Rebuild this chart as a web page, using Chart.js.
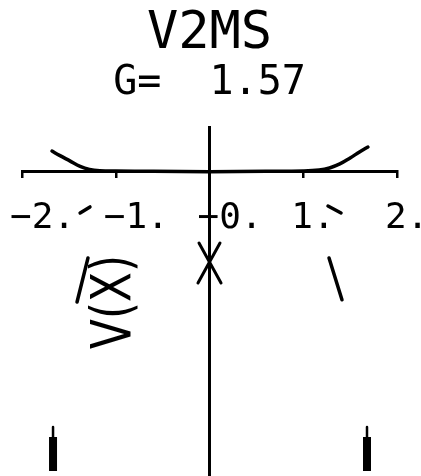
<!DOCTYPE html>
<html>
<head>
<meta charset="utf-8">
<title>V2MS</title>
<script src="https://cdn.jsdelivr.net/npm/chart.js@4.4.0/dist/chart.umd.min.js"></script>
<style>
  html, body { margin: 0; padding: 0; background: #fff; }
  canvas { display: block; }
</style>
</head>
<body>
<canvas id="v2ms" width="421" height="476"></canvas>
<script>
// V(X) sampled along X
var xPoints = [-1.68, -1.60, -1.49, -1.38, -1.28, -1.17, -1.00, -0.60, 0, 0.60, 1.00, 1.17, 1.28, 1.39, 1.50, 1.60, 1.69]
var vPoints = [0.222, 0.175, 0.116, 0.057, 0.024, 0.010, 0.006, 0.004, 0, 0.004, 0.008, 0.018, 0.040, 0.083, 0.147, 0.212, 0.265]

// short pen strokes under the axis, start and end of each
var strokeX = [[-1.380, -1.275], [1.264, 1.403], [-1.296, -1.413], [1.275, 1.413]]
var strokeY = [[-0.444, -0.379], [-0.369, -0.444], [-0.927, -1.400], [-0.927, -1.376]]

// X mark on the V axis
var crossX = [[-0.112, 0.123], [0.112, -0.123]]
var crossY = [[-0.766, -1.196], [-0.766, -1.196]]

// pen arrows near the bottom
var arrowX    = [-1.669, 1.680]
var arrowStem = [-2.743, -2.850]
var arrowBody = [-2.850, -3.216]

var xTicks      = [-2, -1, 0, 1, 2]
var xTickLabels = ['\u22122.', '\u22121.', '\u22120.', '1.', '2.']
var yLimits     = [-3.27, 0.48]

var titleText    = 'V2MS'
var subtitleText = 'G=  1.57'
var yTitleText   = 'V(X)'

var plotter = ( function() {
  var
      ink = '#000'

  , segment = function (xs, ys, width) {
      return {
          data           : xs.map(function (x, i) { return { x: x, y: ys[i] } })
        , borderColor    : ink
        , borderWidth    : width
        , borderCapStyle : 'round'
        , showLine       : true
        , pointRadius    : 0
        , clip           : false
      }
  }

  , buildDatasets = function () {
      var sets = []
        , curve = segment(xPoints, vPoints, 3.5)

      curve.tension = 0.4
      sets.push(curve)

      for (var i = 0; i < strokeX.length; i++)
        sets.push(segment(strokeX[i], strokeY[i], 3.5))

      for (var j = 0; j < crossX.length; j++)
        sets.push(segment(crossX[j], crossY[j], 3))

      for (var k = 0; k < arrowX.length; k++) {
        sets.push(segment([arrowX[k], arrowX[k]], arrowStem, 2.5))
        var body = segment([arrowX[k], arrowX[k]], arrowBody, 8)
        body.borderCapStyle = 'butt'
        sets.push(body)
      }
      return sets
  }

  // V(X) label, drawn sideways reading upward
  , axisLabel = {
      id: 'axisLabel'
    , afterDraw: function (chart) {
        var
            ctx = chart.ctx
          , x   = chart.scales.x.getPixelForValue(-1.0)
          , y   = chart.scales.y.getPixelForValue(-1.4)

        ctx.save()
        ctx.translate(x, y)
        ctx.rotate(-Math.PI / 2)
        ctx.scale(0.78, 1)
        ctx.font = '56px "DejaVu Sans"'
        ctx.textAlign = 'center'
        ctx.textBaseline = 'middle'
        ctx.fillStyle = ink
        ctx.fillText(yTitleText, 0, 0)
        ctx.restore()
    }
  }

  , draw = function (canvasId) {
      var context = document.getElementById(canvasId).getContext('2d')

      return new Chart(context, {
          type    : 'scatter'
        , data    : { datasets: buildDatasets() }
        , plugins : [axisLabel]
        , options : {
              responsive : false
            , animation  : false
            , layout     : { padding: { left: 22, right: 24, top: 0, bottom: 0 } }
            , plugins    : {
                  legend   : { display: false }
                , tooltip  : { enabled: false }
                , title    : {
                      display : true
                    , text    : titleText
                    , color   : ink
                    , font    : { family: 'DejaVu Sans Mono', size: 52, weight: 'normal', lineHeight: 1 }
                    , padding : { top: 8, bottom: 0 }
                  }
                , subtitle : {
                      display : true
                    , text    : subtitleText
                    , color   : ink
                    , font    : { family: 'DejaVu Sans Mono', size: 40, weight: 'normal', lineHeight: 1 }
                    , padding : { top: 4, bottom: 23 }
                  }
              }
            , scales : {
                  x : {
                      type     : 'linear'
                    , min      : xTicks[0]
                    , max      : xTicks[xTicks.length - 1]
                    , position : { y: 0 }
                    , border   : { display: true, color: ink, width: 3 }
                    , grid     : { drawOnChartArea: false, drawTicks: true, tickLength: 5, color: ink, lineWidth: 2.5 }
                    , afterBuildTicks : function (scale) {
                        scale.ticks = xTicks.map(function (v) { return { value: v } })
                    }
                    , afterFit : function (scale) {
                        scale.height = 0
                        scale.paddingLeft = 0
                        scale.paddingRight = 0
                    }
                    , ticks : {
                          color       : ink
                        , font        : { family: 'DejaVu Sans Mono', size: 36, weight: 'normal', lineHeight: 1.2 }
                        , align       : 'start'
                        , labelOffset : -12
                        , padding     : 20
                        , maxRotation : 0
                        , autoSkip    : false
                        , callback    : function (value) { return xTickLabels[xTicks.indexOf(value)] }
                      }
                  }
                , y : {
                      type     : 'linear'
                    , min      : yLimits[0]
                    , max      : yLimits[1]
                    , position : { x: 0 }
                    , border   : { display: true, color: ink, width: 3 }
                    , grid     : { display: false }
                    , ticks    : { display: false }
                    , afterFit : function (scale) {
                        scale.width = 0
                        scale.paddingTop = 0
                        scale.paddingBottom = 0
                    }
                  }
              }
          }
      })
  }

  return {
    init: draw
  }
}() )

plotter.init('v2ms')
</script>
</body>
</html>
